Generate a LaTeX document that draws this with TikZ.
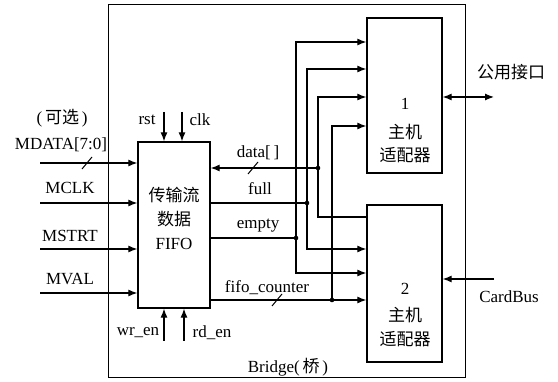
\documentclass[tikz,border=0pt]{standalone}
\usepackage{fontspec}
\setmainfont{Liberation Serif}
\newfontfamily\cjk{Noto Sans CJK SC}
\usetikzlibrary{
  arrows.meta,
  positioning,
  calc
}
\tikzset{
  block/.style={draw, line width=1.3pt, inner sep=0pt},
  sig/.style={line width=1.2pt},
  arr/.style={sig, -{Latex[length=9pt,width=7pt]}},
  barr/.style={sig, {Latex[length=9pt,width=7pt]}-{Latex[length=9pt,width=7pt]}},
  slash/.style={line width=1pt},
  dot/.style={circle, fill, inner sep=0pt, minimum size=4.6pt},
  lbl/.style={font=\fontsize{17}{19}\selectfont, inner sep=0pt}
}

\begin{document}
\begin{tikzpicture}[x=1pt, y=-1pt]
  \useasboundingbox (0,0) rectangle (558,382);

  % boxes
  \node[draw, line width=1pt, minimum width=357pt, minimum height=373pt] (bridge) at (286.5,191.5) {};
  \node[block, minimum width=72pt, minimum height=166pt] (fifo) at (174,225) {};
  \node[block, minimum width=75pt, minimum height=155pt] (ad1) at (404.5,95.5) {};
  \node[block, minimum width=75pt, minimum height=157pt] (ad2) at (404.5,283.5) {};

  % box texts
  \node[lbl] (fifot1) at (174,195) {\cjk 传输流};
  \node[lbl] (fifot2) at (174,219) {\cjk 数据};
  \node[lbl] (fifot3) at (174,244) {FIFO};
  \node[lbl] (ad1t1) at (405,104) {1};
  \node[lbl] (ad1t2) at (405,132) {\cjk 主机};
  \node[lbl] (ad1t3) at (405,155) {\cjk 适配器};
  \node[lbl] (ad2t1) at (405,289) {2};
  \node[lbl] (ad2t2) at (405,315) {\cjk 主机};
  \node[lbl] (ad2t3) at (405,339) {\cjk 适配器};
  \node[lbl] (bridget) at (288,367) {Bridge(\,{\cjk 桥}\,)};

  % left inputs
  \node[lbl] (opt) at (62,118) {(\,{\cjk 可选}\,)};
  \foreach \nm/\y/\lx/\ly/\txt in {mdata/163/61/145/{MDATA[7:0]}, mclk/203/70/188/MCLK, mstrt/249/70/236/MSTRT, mval/293/70/279/MVAL}{
    \coordinate (\nm) at (40,\y);
    \node[lbl] (\nm t) at (\lx,\ly) {\txt};
    \draw[arr] (\nm) -- (fifo.west |- \nm);
  }

  % control inputs
  \coordinate (rst) at (164,112);
  \coordinate (clk) at (182,112);
  \coordinate (wren) at (164,341);
  \coordinate (rden) at (184,341);
  \draw[arr] (rst) -- (fifo.north -| rst);
  \draw[arr] (clk) -- (fifo.north -| clk);
  \draw[arr] (wren) -- (fifo.south -| wren);
  \draw[arr] (rden) -- (fifo.south -| rden);
  \node[lbl] (rstt) at (147,120) {rst};
  \node[lbl] (clkt) at (200,120) {clk};
  \node[lbl] (wrent) at (138,333) {wr\_en};
  \node[lbl] (rdent) at (212,333) {rd\_en};

  % junctions
  \coordinate (jdata) at (318,168);
  \coordinate (jfull) at (307,203);
  \coordinate (jempty) at (296,238);
  \coordinate (jcnt) at (332,300);
  \foreach \j in {jdata,jfull,jempty,jcnt}
    \node[dot] at (\j) {};

  % fifo side signals
  \draw[arr] (jdata) -- (fifo.east |- jdata);
  \draw[sig] (fifo.east |- jfull) -- (jfull);
  \draw[sig] (fifo.east |- jempty) -- (jempty);
  \draw[sig] (fifo.east |- jcnt) -- (jcnt);
  \node[lbl] (datat) at (258,153) {data[\,]};
  \node[lbl] (fullt) at (260,189) {full};
  \node[lbl] (emptyt) at (258,226) {empty};
  \node[lbl] (cntt) at (267,288) {fifo\_counter};

  % to adapters
  \draw[arr] (jempty) |- ($(ad1.west)+(0,-53.5)$);
  \draw[arr] (jfull) |- ($(ad1.west)+(0,-26.5)$);
  \draw[arr] (jdata) |- ($(ad1.west)+(0,1.5)$);
  \draw[arr] (jcnt) |- ($(ad1.west)+(0,30.5)$);
  \draw[sig] (jdata) |- ($(ad2.west)+(0,-66.5)$);
  \draw[arr] (jfull) |- ($(ad2.west)+(0,-34.5)$);
  \draw[arr] (jempty) |- ($(ad2.west)+(0,-10.5)$);
  \draw[arr] (jcnt) -- (ad2.west |- jcnt);

  % bus marks
  \foreach \x/\y in {87/163, 253/168, 277/300}
    \draw[slash] (\x-5,\y+6) -- (\x+5,\y-6);

  % external ports
  \coordinate (pub) at (494,97);
  \coordinate (cbus) at (494,279);
  \draw[barr] ($(ad1.east)+(0,1.5)$) -- (pub);
  \draw[arr] (cbus) -- (ad2.east |- cbus);
  \node[lbl] (pubt) at (511,72) {\cjk 公用接口};
  \node[lbl] (cbust) at (509,297) {CardBus};
\end{tikzpicture}
\end{document}
